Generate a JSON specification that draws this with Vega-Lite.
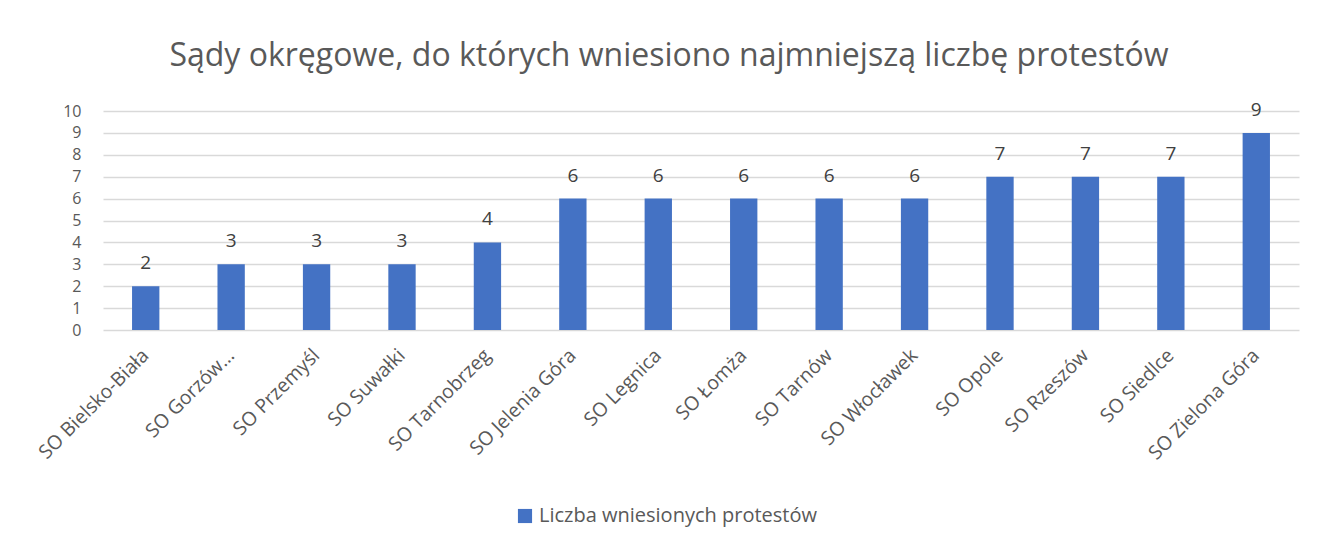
{
  "$schema": "https://vega.github.io/schema/vega-lite/v6.json",
  "width": 1196,
  "height": 219,
  "autosize": {"type": "none"},
  "padding": {"left": 103, "top": 111, "right": 22, "bottom": 217},
  "background": "white",
  "title": {
    "text": "Sądy okręgowe, do których wniesiono najmniejszą liczbę protestów",
    "font": "Open Sans",
    "fontSize": 32,
    "fontWeight": "normal",
    "color": "#595959",
    "anchor": "middle",
    "frame": "group",
    "dx": -32,
    "offset": 28
  },
  "data": {
    "values": [
      {"sad": "SO Bielsko-Biała", "liczba": 2, "seria": "Liczba wniesionych protestów"},
      {"sad": "SO Gorzów…", "liczba": 3, "seria": "Liczba wniesionych protestów"},
      {"sad": "SO Przemyśl", "liczba": 3, "seria": "Liczba wniesionych protestów"},
      {"sad": "SO Suwałki", "liczba": 3, "seria": "Liczba wniesionych protestów"},
      {"sad": "SO Tarnobrzeg", "liczba": 4, "seria": "Liczba wniesionych protestów"},
      {"sad": "SO Jelenia Góra", "liczba": 6, "seria": "Liczba wniesionych protestów"},
      {"sad": "SO Legnica", "liczba": 6, "seria": "Liczba wniesionych protestów"},
      {"sad": "SO Łomża", "liczba": 6, "seria": "Liczba wniesionych protestów"},
      {"sad": "SO Tarnów", "liczba": 6, "seria": "Liczba wniesionych protestów"},
      {"sad": "SO Włocławek", "liczba": 6, "seria": "Liczba wniesionych protestów"},
      {"sad": "SO Opole", "liczba": 7, "seria": "Liczba wniesionych protestów"},
      {"sad": "SO Rzeszów", "liczba": 7, "seria": "Liczba wniesionych protestów"},
      {"sad": "SO Siedlce", "liczba": 7, "seria": "Liczba wniesionych protestów"},
      {"sad": "SO Zielona Góra", "liczba": 9, "seria": "Liczba wniesionych protestów"}
    ]
  },
  "encoding": {
    "x": {
      "field": "sad",
      "type": "nominal",
      "sort": null,
      "scale": {"paddingInner": 0.68, "paddingOuter": 0.34},
      "axis": {
        "title": null,
        "labelAngle": -45,
        "labelAlign": "right",
        "labelBaseline": "middle",
        "labelFont": "Open Sans",
        "labelFontSize": 19.5,
        "labelColor": "#595959",
        "labelPadding": 22,
        "labelLimit": 300,
        "ticks": false,
        "domain": false,
        "grid": false
      }
    },
    "y": {
      "field": "liczba",
      "type": "quantitative",
      "scale": {"domain": [0, 10], "nice": false},
      "axis": {
        "title": null,
        "values": [0, 1, 2, 3, 4, 5, 6, 7, 8, 9, 10],
        "labelFont": "Open Sans",
        "labelFontSize": 16,
        "labelColor": "#595959",
        "labelPadding": 22,
        "ticks": false,
        "domain": false,
        "grid": true,
        "gridColor": "#d9d9d9",
        "gridWidth": 1.5
      }
    }
  },
  "layer": [
    {
      "mark": {"type": "bar"},
      "encoding": {
        "color": {
          "field": "seria",
          "type": "nominal",
          "scale": {"range": ["#4472C4"]},
          "legend": {
            "title": null,
            "orient": "none",
            "legendX": 412,
            "legendY": 395,
            "symbolType": "square",
            "symbolSize": 200,
            "labelFont": "Open Sans",
            "labelFontSize": 20,
            "labelColor": "#595959",
            "labelLimit": 500
          }
        }
      }
    },
    {
      "mark": {"type": "text", "baseline": "bottom", "dy": -13, "font": "Open Sans", "fontSize": 19, "color": "#404040"},
      "encoding": {"text": {"field": "liczba", "type": "quantitative"}}
    }
  ],
  "config": {"view": {"stroke": null}}
}
